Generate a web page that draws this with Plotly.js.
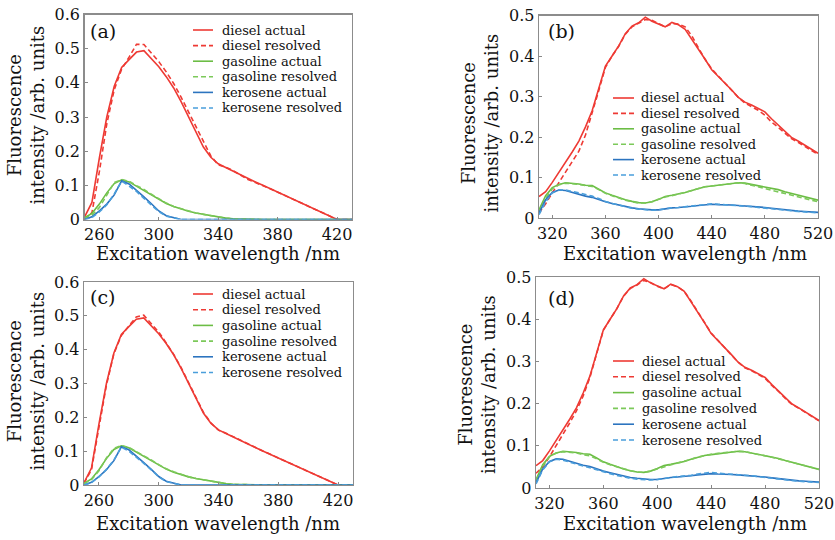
<!DOCTYPE html>
<html>
<head>
<meta charset="utf-8">
<script src="https://cdn.plot.ly/plotly-3.0.1.min.js"></script>
<style>html,body{margin:0;padding:0;background:#fff;}#chart{width:835px;height:540px;}</style>
</head>
<body>
<div id="chart"></div>
<script>
// ---------- DATA ----------
const seriesNames = ['diesel actual', 'diesel resolved', 'gasoline actual', 'gasoline resolved', 'kerosene actual', 'kerosene resolved'];
const panelLabels = ['(a)', '(b)', '(c)', '(d)'];
const xTitle = 'Excitation wavelength /nm';
const yTitle = 'Fluorescence<br>intensity /arb. units';

// panels (a) and (c): excitation wavelength grid
const xAC = [250,255,260,265,270,275,280,285,290,295,300,305,310,315,320,325,330,335,340,345,350,355,360,365,370,375,380,385,390,395,400,405,410,415,420,425,430];
const dieselActualAC = [0.007,0.05,0.18,0.30,0.39,0.445,0.468,0.490,0.494,0.472,0.447,0.418,0.385,0.345,0.300,0.258,0.212,0.182,0.163,0.152,0.141,0.131,0.120,0.110,0.100,0.090,0.080,0.070,0.060,0.050,0.040,0.030,0.019,0.008,0,0,0];
const dieselResolvedA = [0,0.02,0.14,0.28,0.38,0.44,0.475,0.513,0.512,0.487,0.462,0.432,0.398,0.358,0.315,0.272,0.226,0.186,0.160,0.153,0.143,0.130,0.117,0.108,0.100,0.090,0.080,0.070,0.060,0.050,0.040,0.030,0.019,0.008,0,0,0];
const dieselResolvedC = [0.005,0.045,0.17,0.295,0.388,0.442,0.47,0.497,0.502,0.478,0.452,0.42,0.386,0.347,0.302,0.26,0.214,0.183,0.162,0.153,0.142,0.131,0.120,0.110,0.100,0.090,0.080,0.070,0.060,0.050,0.040,0.030,0.019,0.008,0,0,0];
const gasolineActualAC = [0.005,0.018,0.045,0.078,0.105,0.116,0.110,0.097,0.086,0.073,0.059,0.047,0.038,0.030,0.024,0.019,0.015,0.011,0.007,0.004,0.002,0.001,0,0,0,0,0,0,0,0,0,0,0,0,0,0,0];
const gasolineResolvedA = [0.003,0.012,0.035,0.072,0.108,0.117,0.112,0.099,0.088,0.074,0.060,0.048,0.038,0.031,0.025,0.019,0.015,0.011,0.007,0.004,0.002,0.001,0,0,0,0,0,0,0,0,0,0,0,0,0,0,0];
const gasolineResolvedC = [0.004,0.016,0.042,0.080,0.108,0.117,0.111,0.099,0.088,0.074,0.060,0.048,0.039,0.031,0.024,0.019,0.015,0.011,0.007,0.004,0.002,0.001,0,0,0,0,0,0,0,0,0,0,0,0,0,0,0];
const keroseneActualAC = [0,0.008,0.025,0.045,0.072,0.113,0.104,0.086,0.066,0.046,0.025,0.011,0.006,0,0,0,0,0,0,0,0,0,0,0,0,0,0,0,0,0,0,0,0,0,0,0,0];
const keroseneResolvedA = [0,0.006,0.022,0.043,0.075,0.112,0.098,0.082,0.062,0.043,0.023,0.010,0.005,0,0,0,0,0,0,0,0,0,0,0,0,0,0,0,0,0,0,0,0,0,0,0,0];
const keroseneResolvedC = [0,0.007,0.024,0.046,0.074,0.112,0.100,0.083,0.064,0.045,0.024,0.010,0.005,0,0,0,0,0,0,0,0,0,0,0,0,0,0,0,0,0,0,0,0,0,0,0,0];

// panels (b) and (d)
const xBD = [310,315,320,325,330,335,340,345,350,355,360,365,370,375,380,385,390,395,400,405,410,415,420,425,430,435,440,445,450,455,460,465,470,475,480,485,490,495,500,505,510,515,520];
const dieselActualBD = [0.053,0.065,0.088,0.112,0.137,0.163,0.190,0.225,0.265,0.320,0.375,0.400,0.425,0.455,0.474,0.482,0.496,0.486,0.478,0.472,0.483,0.477,0.466,0.442,0.416,0.392,0.366,0.350,0.333,0.316,0.298,0.286,0.279,0.270,0.262,0.245,0.230,0.213,0.199,0.190,0.180,0.169,0.160];
const dieselResolvedB = [0.012,0.035,0.062,0.088,0.113,0.137,0.165,0.205,0.258,0.315,0.372,0.400,0.424,0.454,0.472,0.480,0.490,0.488,0.479,0.472,0.480,0.479,0.472,0.450,0.420,0.392,0.368,0.350,0.332,0.315,0.298,0.284,0.276,0.266,0.254,0.237,0.224,0.210,0.196,0.187,0.177,0.166,0.157];
const dieselResolvedD = [0.035,0.050,0.074,0.100,0.126,0.154,0.183,0.218,0.262,0.318,0.374,0.400,0.425,0.455,0.473,0.481,0.492,0.487,0.478,0.472,0.482,0.477,0.466,0.443,0.417,0.392,0.367,0.350,0.333,0.316,0.298,0.285,0.278,0.269,0.260,0.243,0.229,0.212,0.198,0.189,0.179,0.168,0.159];
const gasolineActualBD = [0.020,0.055,0.075,0.083,0.087,0.086,0.084,0.081,0.080,0.071,0.062,0.056,0.050,0.045,0.041,0.038,0.037,0.040,0.046,0.053,0.056,0.059,0.063,0.068,0.073,0.077,0.079,0.081,0.084,0.086,0.087,0.086,0.083,0.080,0.077,0.074,0.070,0.065,0.061,0.057,0.053,0.049,0.044];
const gasolineResolvedB = [0.015,0.048,0.072,0.082,0.086,0.085,0.083,0.080,0.078,0.070,0.061,0.055,0.049,0.044,0.040,0.037,0.037,0.040,0.046,0.052,0.055,0.059,0.063,0.068,0.073,0.077,0.079,0.081,0.084,0.086,0.087,0.085,0.081,0.077,0.072,0.068,0.064,0.060,0.056,0.052,0.048,0.044,0.040];
const gasolineResolvedD = [0.017,0.052,0.074,0.083,0.086,0.085,0.083,0.079,0.076,0.069,0.061,0.055,0.050,0.045,0.041,0.038,0.037,0.040,0.045,0.051,0.055,0.059,0.063,0.068,0.073,0.077,0.080,0.082,0.084,0.086,0.087,0.086,0.083,0.080,0.076,0.073,0.069,0.065,0.060,0.056,0.052,0.048,0.044];
const keroseneActualBD = [0.012,0.045,0.063,0.069,0.068,0.063,0.058,0.054,0.051,0.045,0.040,0.036,0.032,0.028,0.025,0.023,0.021,0.020,0.020,0.023,0.025,0.026,0.027,0.029,0.031,0.033,0.034,0.033,0.033,0.032,0.031,0.030,0.029,0.028,0.026,0.024,0.022,0.021,0.019,0.017,0.016,0.015,0.014];
const keroseneResolvedB = [0.008,0.040,0.062,0.069,0.069,0.066,0.062,0.058,0.054,0.048,0.041,0.036,0.032,0.027,0.024,0.022,0.020,0.019,0.020,0.023,0.025,0.026,0.028,0.030,0.032,0.034,0.035,0.034,0.033,0.032,0.030,0.029,0.028,0.026,0.025,0.023,0.021,0.020,0.018,0.016,0.015,0.014,0.013];
const keroseneResolvedD = [0.010,0.043,0.062,0.068,0.066,0.061,0.056,0.052,0.048,0.043,0.038,0.034,0.030,0.026,0.023,0.021,0.020,0.019,0.020,0.023,0.025,0.027,0.028,0.030,0.033,0.035,0.037,0.035,0.034,0.033,0.031,0.030,0.029,0.027,0.025,0.023,0.021,0.019,0.017,0.016,0.015,0.014,0.013];

// ---------- STYLE / LAYOUT ----------
const W = 835, H = 540;
const FONT = 'DejaVu Serif';
const seriesColors = ['#ee3a34', '#ee3a34', '#6cbd45', '#7cc95a', '#2c74bf', '#4a9edb'];
const seriesDash = ['solid', '5px,3px', 'solid', '5px,3px', 'solid', '5px,3px'];
const LW = 1.6;

const fx = p => p / W;
const fy = p => 1 - p / H;

// pixel boxes of the four panels: [left, right, top, bottom]
const boxes = [
  [84.5, 352, 14.5, 219.5],
  [539, 818, 15.5, 218],
  [84, 353, 282, 485],
  [536, 819, 277, 488]
];
const xRanges = [[250, 430], [310, 520], [250, 430], [310, 520]];
const yRanges = [[0, 0.6], [0, 0.5], [0, 0.6], [0, 0.5]];
const xTick0 = [260, 320, 260, 320];

const panelData = [
  {x: xAC, ys: [dieselActualAC, dieselResolvedA, gasolineActualAC, gasolineResolvedA, keroseneActualAC, keroseneResolvedA]},
  {x: xBD, ys: [dieselActualBD, dieselResolvedB, gasolineActualBD, gasolineResolvedB, keroseneActualBD, keroseneResolvedB]},
  {x: xAC, ys: [dieselActualAC, dieselResolvedC, gasolineActualAC, gasolineResolvedC, keroseneActualAC, keroseneResolvedC]},
  {x: xBD, ys: [dieselActualBD, dieselResolvedD, gasolineActualBD, gasolineResolvedD, keroseneActualBD, keroseneResolvedD]}
];

// legend placement in pixels: line start, line end, text start, first row centre, row step
const legendPos = [
  {l0: 193, l1: 213, tx: 221, r0: 30, step: 15.6},
  {l0: 613, l1: 634, tx: 640, r0: 98, step: 15.4},
  {l0: 193, l1: 213, tx: 221, r0: 294, step: 15.7},
  {l0: 613, l1: 634, tx: 641, r0: 361, step: 15.8}
];
const panelLabelPos = [[88, 31], [546, 31], [88, 297], [546, 297.5]];
const xTitlePos = [[218, 253], [685, 253], [218, 523], [685, 523]];
const yTitlePos = [[25.5, 115], [479.5, 123], [25.5, 381], [477, 385]];

const traces = [];
const layout = {
  width: W, height: H,
  margin: {l: 0, r: 0, t: 0, b: 0},
  paper_bgcolor: '#fff', plot_bgcolor: '#fff',
  showlegend: false,
  font: {family: FONT, color: '#111'},
  shapes: [], annotations: []
};

panelData.forEach((pd, i) => {
  const n = i === 0 ? '' : String(i + 1);
  const b = boxes[i];
  layout['xaxis' + n] = {
    domain: [fx(b[0]), fx(b[1])], range: xRanges[i], anchor: 'y' + n,
    tickmode: 'linear', tick0: xTick0[i], dtick: 40,
    ticks: 'inside', ticklen: 3, tickwidth: 1, tickcolor: '#888',
    showline: true, mirror: true, linecolor: '#8c8c8c', linewidth: 1.3,
    showgrid: false, zeroline: false, fixedrange: true,
    tickfont: {family: FONT, size: 16, color: '#111'}
  };
  layout['yaxis' + n] = {
    domain: [fy(b[3]), fy(b[2])], range: yRanges[i], anchor: 'x' + n,
    tickmode: 'linear', tick0: 0, dtick: 0.1,
    ticks: 'inside', ticklen: 3, tickwidth: 1, tickcolor: '#888',
    showline: true, mirror: true, linecolor: '#8c8c8c', linewidth: 1.3,
    showgrid: false, zeroline: false, fixedrange: true,
    tickfont: {family: FONT, size: 16, color: '#111'}
  };
  pd.ys.forEach((y, k) => {
    traces.push({
      type: 'scatter', mode: 'lines', x: pd.x, y: y,
      xaxis: 'x' + n, yaxis: 'y' + n, name: seriesNames[k],
      line: {color: seriesColors[k], width: LW, dash: seriesDash[k]},
      hoverinfo: 'skip'
    });
  });
  // hand-built legend (to match the tight row spacing)
  const lp = legendPos[i];
  seriesNames.forEach((name, k) => {
    const ry = lp.r0 + k * lp.step;
    layout.shapes.push({
      type: 'line', xref: 'paper', yref: 'paper',
      x0: fx(lp.l0), x1: fx(lp.l1), y0: fy(ry), y1: fy(ry),
      line: {color: seriesColors[k], width: LW, dash: seriesDash[k]}
    });
    layout.annotations.push({
      xref: 'paper', yref: 'paper', x: fx(lp.tx), y: fy(ry),
      xanchor: 'left', yanchor: 'middle', showarrow: false, borderpad: 0,
      text: name, font: {family: FONT, size: 13, color: '#111'}
    });
  });
  layout.annotations.push({
    xref: 'paper', yref: 'paper', x: fx(panelLabelPos[i][0]), y: fy(panelLabelPos[i][1]),
    xanchor: 'left', yanchor: 'middle', showarrow: false,
    text: panelLabels[i], font: {family: FONT, size: 19, color: '#111'}
  });
  layout.annotations.push({
    xref: 'paper', yref: 'paper', x: fx(xTitlePos[i][0]), y: fy(xTitlePos[i][1]),
    xanchor: 'center', yanchor: 'middle', showarrow: false,
    text: xTitle, font: {family: FONT, size: 18, color: '#111'}
  });
  layout.annotations.push({
    xref: 'paper', yref: 'paper', x: fx(yTitlePos[i][0]), y: fy(yTitlePos[i][1]),
    xanchor: 'center', yanchor: 'middle', showarrow: false, textangle: -90,
    text: yTitle, font: {family: FONT, size: 18, color: '#111'}
  });
});

Plotly.newPlot('chart', traces, layout, {displayModeBar: false, staticPlot: true});
</script>
</body>
</html>
